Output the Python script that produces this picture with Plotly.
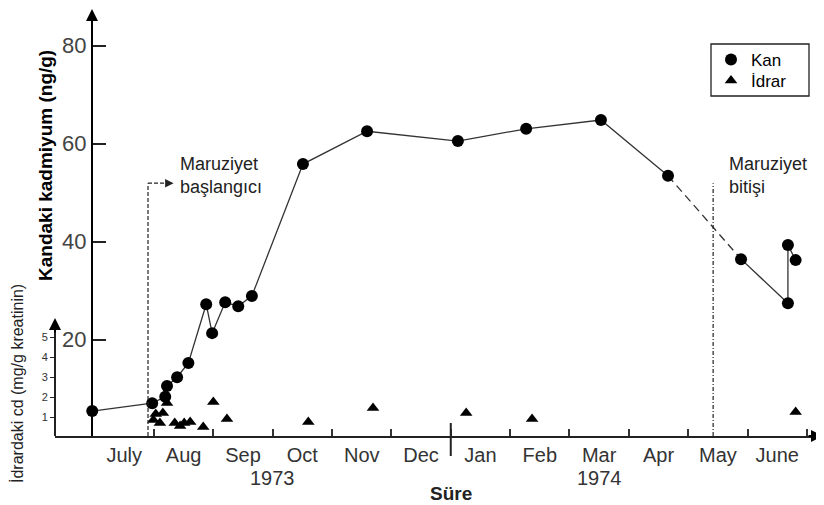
import plotly.graph_objects as go

# The page body adds an 8px margin, so the figure is drawn 8px smaller
# and positions are given in window pixels then converted.
OFF = 8
WIN_W, WIN_H = 824, 505
W, H = WIN_W - OFF, WIN_H - OFF

# ---------------- data ----------------
MONTHS = ["July", "Aug", "Sep", "Oct", "Nov", "Dec", "Jan", "Feb", "Mar", "Apr", "May", "June"]
MONTH_CENTERS = [i + 0.5 for i in range(len(MONTHS))]
MONTH_BOUNDS = list(range(1, len(MONTHS) + 1))
YEARS = ["1973", "1974"]
YEAR_POS = [3.0, 8.5]

# time in months since 1 July 1973
kan_t = [-0.04, 0.97, 1.19, 1.22, 1.39, 1.58, 1.88, 1.98, 2.20, 2.42, 2.65,
         3.51, 4.59, 6.12, 7.27, 8.53, 9.66, 10.89, 11.68, 11.68, 11.81]
kan_v = [5.4, 7.0, 8.3, 10.5, 12.3, 15.2, 27.2, 21.3, 27.6, 26.8, 28.9,
         55.8, 62.5, 60.5, 63.0, 64.8, 53.4, 36.4, 27.4, 39.3, 36.2]

idrar_t = [0.99, 1.03, 1.10, 1.15, 1.22, 1.35, 1.44, 1.51, 1.61, 1.83, 2.00, 2.23,
           3.60, 4.69, 6.26, 7.37, 11.81]
idrar_v = [0.85, 1.15, 0.7, 1.2, 1.7, 0.7, 0.55, 0.7, 0.75, 0.5, 1.75, 0.9,
           0.75, 1.45, 1.2, 0.9, 1.25]

KAN_TICKS = [20, 40, 60, 80]
IDRAR_TICKS = [1, 2, 3, 4, 5]

EXPOSURE_START = 0.90
EXPOSURE_END = 10.42
MARKER_TOP = 51.9

# ---------------- helpers ----------------
def px_x(p):
    return (p - OFF) / W

def px_y(p):
    return (WIN_H - p) / H

def m_of(p):
    return (p - 94.6) / 59.36

NARROW = "Liberation Sans Narrow, Arial Narrow, sans-serif"
SANS = "Liberation Sans, Arial, sans-serif"

fig = go.Figure()

# blood: solid until April, dashed to first post-exposure point, solid after
fig.add_trace(go.Scatter(x=kan_t[:17], y=kan_v[:17], mode="lines",
                         line=dict(color="#333", width=1.3), showlegend=False,
                         hoverinfo="skip"))
fig.add_trace(go.Scatter(x=kan_t[16:18], y=kan_v[16:18], mode="lines",
                         line=dict(color="#333", width=1.3, dash="8px,5px"),
                         showlegend=False, hoverinfo="skip"))
fig.add_trace(go.Scatter(x=kan_t[17:], y=kan_v[17:], mode="lines",
                         line=dict(color="#333", width=1.3), showlegend=False,
                         hoverinfo="skip"))
fig.add_trace(go.Scatter(x=kan_t, y=kan_v, mode="markers", name="Kan",
                         legend="legend",
                         marker=dict(symbol="circle", size=12, color="black")))
fig.add_trace(go.Scatter(x=idrar_t, y=idrar_v, mode="markers", name="İdrar",
                         xaxis="x", yaxis="y2", legend="legend2",
                         marker=dict(symbol="triangle-up", size=11, color="black")))

x0, x1 = 55, 818
legend_common = dict(xanchor="left", yanchor="middle", borderwidth=0,
                     bgcolor="rgba(0,0,0,0)", itemwidth=30,
                     font=dict(family=SANS, size=17, color="black"))

fig.update_layout(
    width=W, height=H,
    margin=dict(l=0, r=0, t=0, b=0),
    paper_bgcolor="white", plot_bgcolor="rgba(0,0,0,0)",
    font=dict(family=SANS, color="black"),
    xaxis=dict(
        domain=[px_x(x0), px_x(x1)], range=[m_of(x0), m_of(x1)],
        anchor="y", showgrid=False, zeroline=False,
        showline=True, linecolor="#222", linewidth=2,
        tickmode="array", tickvals=MONTH_CENTERS, ticktext=MONTHS, ticks="",
        ticklabelstandoff=0,
        tickfont=dict(family=NARROW, size=20, color="#333"),
        minor=dict(tickmode="array", tickvals=MONTH_BOUNDS, ticks="inside",
                   ticklen=7, tickwidth=1.5, tickcolor="#333", showgrid=False),
        automargin=False,
    ),
    yaxis=dict(
        domain=[px_y(436), px_y(12)],
        range=[(437.5 - 436) / 4.9, (437.5 - 12) / 4.9],
        anchor="free", position=px_x(92), side="left",
        showgrid=False, zeroline=False,
        showline=True, linecolor="black", linewidth=2,
        tickmode="array", tickvals=KAN_TICKS, ticks="inside", ticklen=13,
        tickwidth=1.5, tickcolor="#222",
        tickfont=dict(family=NARROW, size=22, color="#444"),
        automargin=False,
    ),
    yaxis2=dict(
        domain=[px_y(436), px_y(326)],
        range=[(437 - 436) / 20, (437 - 326) / 20],
        anchor="free", position=px_x(55), side="left",
        showgrid=False, zeroline=False,
        showline=True, linecolor="#222", linewidth=2,
        tickmode="array", tickvals=IDRAR_TICKS, ticks="outside", ticklen=4,
        tickwidth=1, tickcolor="#222",
        tickfont=dict(family=NARROW, size=11, color="#333"),
        automargin=False,
    ),
    legend=dict(x=px_x(711), y=px_y(60), **legend_common),
    legend2=dict(x=px_x(711), y=px_y(81), **legend_common),
    showlegend=True,
)

# legend frame
fig.add_shape(type="rect", xref="paper", yref="paper",
              x0=px_x(711), x1=px_x(809), y0=px_y(96), y1=px_y(44),
              line=dict(color="#222", width=1.3))

# exposure start / end lines
fig.add_shape(type="line", xref="x", yref="y", x0=EXPOSURE_START, x1=EXPOSURE_START,
              y0=0.3, y1=MARKER_TOP, line=dict(color="#222", width=1.2, dash="4px,2px"))
fig.add_shape(type="line", xref="x", yref="y", x0=EXPOSURE_START, x1=1.22,
              y0=MARKER_TOP, y1=MARKER_TOP, line=dict(color="#222", width=1.2, dash="4px,2px"))
fig.add_annotation(x=1.33, y=MARKER_TOP, ax=1.2, ay=MARKER_TOP, xref="x", yref="y",
                   axref="x", ayref="y", text="", showarrow=True, arrowhead=2,
                   arrowsize=1.3, arrowwidth=1.3, arrowcolor="#222")
fig.add_shape(type="line", xref="x", yref="y", x0=EXPOSURE_END, x1=EXPOSURE_END,
              y0=0.3, y1=MARKER_TOP, line=dict(color="#222", width=1.2, dash="4px,2px,1px,2px"))

# year divider
fig.add_shape(type="line", xref="x", yref="paper", x0=6, x1=6, y0=px_y(456), y1=px_y(423),
              line=dict(color="#222", width=2))

# axis arrows
for (xp, yp, ax, ay) in [(92, 4, 0, 22), (55, 318, 0, 16), (823, 436, -16, 0)]:
    fig.add_annotation(x=px_x(xp), y=px_y(yp), xref="paper", yref="paper",
                       ax=ax, ay=ay, text="", showarrow=True, arrowhead=2,
                       arrowsize=1.2, arrowwidth=2, arrowcolor="black", standoff=0)

# texts
fig.add_annotation(x=px_x(178), y=px_y(152), xref="paper", yref="paper",
                   text="Maruziyet<br>başlangıcı", showarrow=False, align="left",
                   xanchor="left", yanchor="top",
                   font=dict(family=SANS, size=18, color="#222"))
fig.add_annotation(x=px_x(727), y=px_y(152), xref="paper", yref="paper",
                   text="Maruziyet<br>bitişi", showarrow=False, align="left",
                   xanchor="left", yanchor="top",
                   font=dict(family=SANS, size=18, color="#222"))
for yr, pos in zip(YEARS, YEAR_POS):
    fig.add_annotation(x=pos, y=px_y(478), xref="x", yref="paper", text=yr,
                       xanchor="center", yanchor="middle", showarrow=False,
                       font=dict(family=NARROW, size=20, color="#333"))
fig.add_annotation(x=6.0, y=px_y(493), xref="x", yref="paper", text="<b>Süre</b>",
                   xanchor="center", yanchor="middle", showarrow=False,
                   font=dict(family=SANS, size=19, color="#222"))
fig.add_annotation(x=px_x(45), y=px_y(166), xref="paper", yref="paper",
                   text="<b>Kandaki kadmiyum (ng/g)</b>", textangle=-90, showarrow=False,
                   xanchor="center", yanchor="middle",
                   font=dict(family=SANS, size=19, color="black"))
fig.add_annotation(x=px_x(17), y=px_y(384), xref="paper", yref="paper",
                   text="İdrardaki cd (mg/g kreatinin)", textangle=-90, showarrow=False,
                   xanchor="center", yanchor="middle",
                   font=dict(family=NARROW, size=16, color="#222"))

fig.write_html("out.html")
